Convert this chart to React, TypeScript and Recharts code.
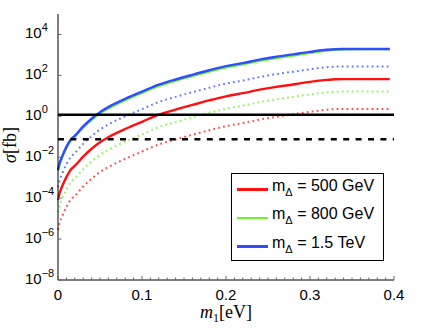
import { LineChart, Line, XAxis, YAxis, ReferenceLine, Legend } from "recharts"

// m1 [eV] sample points
const m1 = [0, 0.002, 0.005, 0.01, 0.015, 0.02, 0.03, 0.04, 0.05, 0.06, 0.08, 0.1, 0.12, 0.14, 0.16, 0.18, 0.2, 0.22, 0.24, 0.26, 0.28, 0.3, 0.32, 0.33, 0.34, 0.36, 0.38, 0.395]

// sigma [fb], solid curves
const red500 = [8.1e-5, 1.78e-4, 3.8e-4, 1.07e-3, 2.4e-3, 3.8e-3, 1.07e-2, 2.6e-2, 5.4e-2, 9.5e-2, 0.24, 0.54, 1.2, 2.14, 3.6, 6.0, 9.5, 13.5, 20, 27.5, 36, 48, 60, 65, 66, 66, 66, 66]
const green800 = [2.1e-3, 4.6e-3, 9.8e-3, 2.8e-2, 6.3e-2, 0.1, 0.28, 0.67, 1.4, 2.45, 6.2, 14, 30.5, 55, 93, 155, 246, 347, 513, 710, 940, 1260, 1650, 1800, 1900, 1930, 1930, 1930]
const blue1500 = [2.4e-3, 5.2e-3, 1.1e-2, 3.2e-2, 7.1e-2, 0.11, 0.32, 0.76, 1.6, 2.8, 7.1, 16, 35, 63, 107, 178, 282, 398, 589, 813, 1070, 1410, 1780, 1900, 1950, 1950, 1950, 1950]

// sigma [fb], dotted curves
const redDot = [2.8e-6, 6.2e-6, 1.3e-5, 3.7e-5, 8.3e-5, 1.3e-4, 3.7e-4, 8.9e-4, 1.9e-3, 3.3e-3, 8.3e-3, 1.9e-2, 4.2e-2, 7.4e-2, 0.126, 0.21, 0.33, 0.47, 0.69, 0.95, 1.26, 1.66, 2.1, 2.24, 2.3, 2.3, 2.3, 2.3]
const greenDot = [2.0e-5, 4.4e-5, 9.3e-5, 2.6e-4, 5.9e-4, 9.3e-4, 2.6e-3, 6.3e-3, 1.3e-2, 2.3e-2, 5.9e-2, 0.13, 0.3, 0.52, 0.89, 1.48, 2.34, 3.3, 4.9, 6.8, 8.9, 11.7, 14.8, 15.8, 16.2, 16.2, 16.2, 16.2]
const blueDot = [3.4e-4, 7.4e-4, 1.6e-3, 4.5e-3, 1.0e-2, 1.6e-2, 4.5e-2, 0.107, 0.224, 0.4, 1.0, 2.24, 5.0, 8.9, 15.1, 25, 40, 56, 83, 115, 151, 200, 251, 269, 275, 275, 275, 275]

// horizontal limits
const solidLimit = 1.2
const dashedLimit = 0.076

const yTicks = [1e-8, 1e-6, 1e-4, 1e-2, 1, 1e2, 1e4]
const xMajor = [0, 0.1, 0.2, 0.3, 0.4]
const xTicks = Array.from({ length: 41 }, (_, i) => i / 100)

const RED = "#ff1010"
const GREEN = "#6cf52a"
const BLUE = "#2f4cff"

const data = m1.map((m, i) => ({
  m,
  red500: red500[i],
  green800: green800[i],
  blue1500: blue1500[i],
  redDot: redDot[i],
  greenDot: greenDot[i],
  blueDot: blueDot[i],
}))

const sans = "'Liberation Sans', Arial, sans-serif"
const serif = "'Liberation Serif', 'Times New Roman', serif"

function XTick(props: any) {
  const { x, y, payload, side } = props
  const v = payload.value
  const major = xMajor.some((t) => Math.abs(t - v) < 1e-6)
  const len = major ? 4 : 2.5
  const dir = side === "top" ? 1 : -1
  return (
    <g>
      <line x1={x} y1={y} x2={x} y2={y + dir * len} stroke="#666" strokeWidth={1} />
      {side === "bottom" && major && (
        <text x={x} y={y + 20} textAnchor="middle" fontFamily={sans} fontSize={15} fill="#000">
          {v === 0 ? "0" : String(Math.round(v * 10) / 10)}
        </text>
      )}
    </g>
  )
}

function YTick(props: any) {
  const { x, y, payload, side } = props
  const exp = Math.round(Math.log10(payload.value))
  const dir = side === "left" ? 1 : -1
  return (
    <g>
      <line x1={x} y1={y} x2={x + dir * 3.5} y2={y} stroke="#666" strokeWidth={1} />
      {side === "left" && (
        <text x={x - 33} y={y + 4} fontFamily={sans} fontSize={15} fill="#000">
          10
          <tspan dy={-7} fontSize={11}>
            {exp < 0 ? "\u2212" + -exp : String(exp)}
          </tspan>
        </text>
      )}
    </g>
  )
}

function XLabel(props: any) {
  const { viewBox } = props
  const cx = viewBox.x + viewBox.width / 2
  return (
    <text x={cx} y={viewBox.y + 38} textAnchor="middle" fontFamily={serif} fontSize={18} fill="#000">
      <tspan fontStyle="italic">m</tspan>
      <tspan dy={4} fontSize={12}>1</tspan>
      <tspan dy={-4}>[eV]</tspan>
    </text>
  )
}

function YLabel(props: any) {
  const { viewBox } = props
  const cy = viewBox.y + 131
  return (
    <text
      x={12}
      y={cy}
      transform={`rotate(-90 12 ${cy})`}
      textAnchor="middle"
      dominantBaseline="middle"
      fontFamily={serif}
      fontSize={18}
      fill="#000"
    >
      <tspan fontStyle="italic">σ</tspan>[fb]
    </text>
  )
}

const legendItems = [
  { key: "red500", label: "500 GeV", color: RED },
  { key: "green800", label: "800 GeV", color: GREEN },
  { key: "blue1500", label: "1.5 TeV", color: BLUE },
]

function LegendBox() {
  return (
    <div
      style={{
        width: 153,
        height: 88,
        boxSizing: "border-box",
        border: "1px solid #000",
        background: "#fff",
        paddingTop: 1,
        fontFamily: sans,
        fontSize: 16,
      }}
    >
      {legendItems.map((it) => (
        <div key={it.key} style={{ height: 28.5, display: "flex", alignItems: "center", position: "relative" }}>
          <div style={{ marginLeft: 5, width: 31, height: 2.5, background: it.color }} />
          <div style={{ marginLeft: 4, whiteSpace: "nowrap", position: "relative", top: -2 }}>
            m<sub style={{ fontSize: 11, verticalAlign: "-5px" }}>Δ</sub> = {it.label}
          </div>
        </div>
      ))}
    </div>
  )
}

const dotStyle = { strokeWidth: 2, strokeDasharray: "1.8 3.2", strokeOpacity: 0.75 }

export default function App() {
  return (
    <div style={{ position: "absolute", left: 0, top: 0, width: 436, height: 328, background: "#fff" }}>
      <LineChart width={436} height={328} data={data} margin={{ top: 14, right: 42, bottom: 0, left: 0 }}>
        <XAxis
          xAxisId="bottom"
          dataKey="m"
          type="number"
          domain={[0, 0.4]}
          ticks={xTicks}
          interval={0}
          height={48}
          tickSize={0}
          tickMargin={0}
          tickLine={false}
          axisLine={{ stroke: "#000", strokeWidth: 1 }}
          tick={<XTick side="bottom" />}
          label={<XLabel />}
        />
        <XAxis
          xAxisId="top"
          orientation="top"
          dataKey="m"
          type="number"
          domain={[0, 0.4]}
          ticks={xTicks}
          interval={0}
          height={0}
          tickSize={0}
          tickMargin={0}
          tickLine={false}
          axisLine={{ stroke: "#000", strokeWidth: 1 }}
          tick={<XTick side="top" />}
        />
        <YAxis
          yAxisId="left"
          scale="log"
          type="number"
          domain={[1e-8, 1e5]}
          allowDataOverflow
          ticks={yTicks}
          interval={0}
          width={58}
          tickSize={0}
          tickMargin={0}
          tickLine={false}
          axisLine={{ stroke: "#000", strokeWidth: 1 }}
          tick={<YTick side="left" />}
          label={<YLabel />}
        />
        <YAxis
          yAxisId="right"
          orientation="right"
          scale="log"
          type="number"
          domain={[1e-8, 1e5]}
          allowDataOverflow
          ticks={yTicks}
          interval={0}
          width={0}
          tickSize={0}
          tickMargin={0}
          tickLine={false}
          axisLine={{ stroke: "#000", strokeWidth: 1 }}
          tick={<YTick side="right" />}
        />
        <Line xAxisId="bottom" yAxisId="left" type="monotone" dataKey="redDot" stroke={RED} {...dotStyle} dot={false} legendType="none" isAnimationActive={false} />
        <Line xAxisId="bottom" yAxisId="left" type="monotone" dataKey="greenDot" stroke={GREEN} {...dotStyle} dot={false} legendType="none" isAnimationActive={false} />
        <Line xAxisId="bottom" yAxisId="left" type="monotone" dataKey="blueDot" stroke={BLUE} {...dotStyle} dot={false} legendType="none" isAnimationActive={false} />
        <Line xAxisId="bottom" yAxisId="left" type="monotone" dataKey="red500" stroke={RED} strokeWidth={2.4} dot={false} isAnimationActive={false} />
        <Line xAxisId="bottom" yAxisId="left" type="monotone" dataKey="green800" stroke={GREEN} strokeWidth={2.4} dot={false} isAnimationActive={false} />
        <Line xAxisId="bottom" yAxisId="left" type="monotone" dataKey="blue1500" stroke={BLUE} strokeWidth={2.4} dot={false} isAnimationActive={false} />
        <ReferenceLine xAxisId="bottom" yAxisId="left" y={solidLimit} stroke="#000" strokeWidth={2.6} />
        <ReferenceLine xAxisId="bottom" yAxisId="left" y={dashedLimit} stroke="#000" strokeWidth={2.4} strokeDasharray="6 6.4" />
        <Legend
          layout="vertical"
          align="center"
          verticalAlign="middle"
          content={<LegendBox />}
          wrapperStyle={{ left: 231, top: 173, width: 153, height: 88 }}
        />
      </LineChart>
    </div>
  )
}
